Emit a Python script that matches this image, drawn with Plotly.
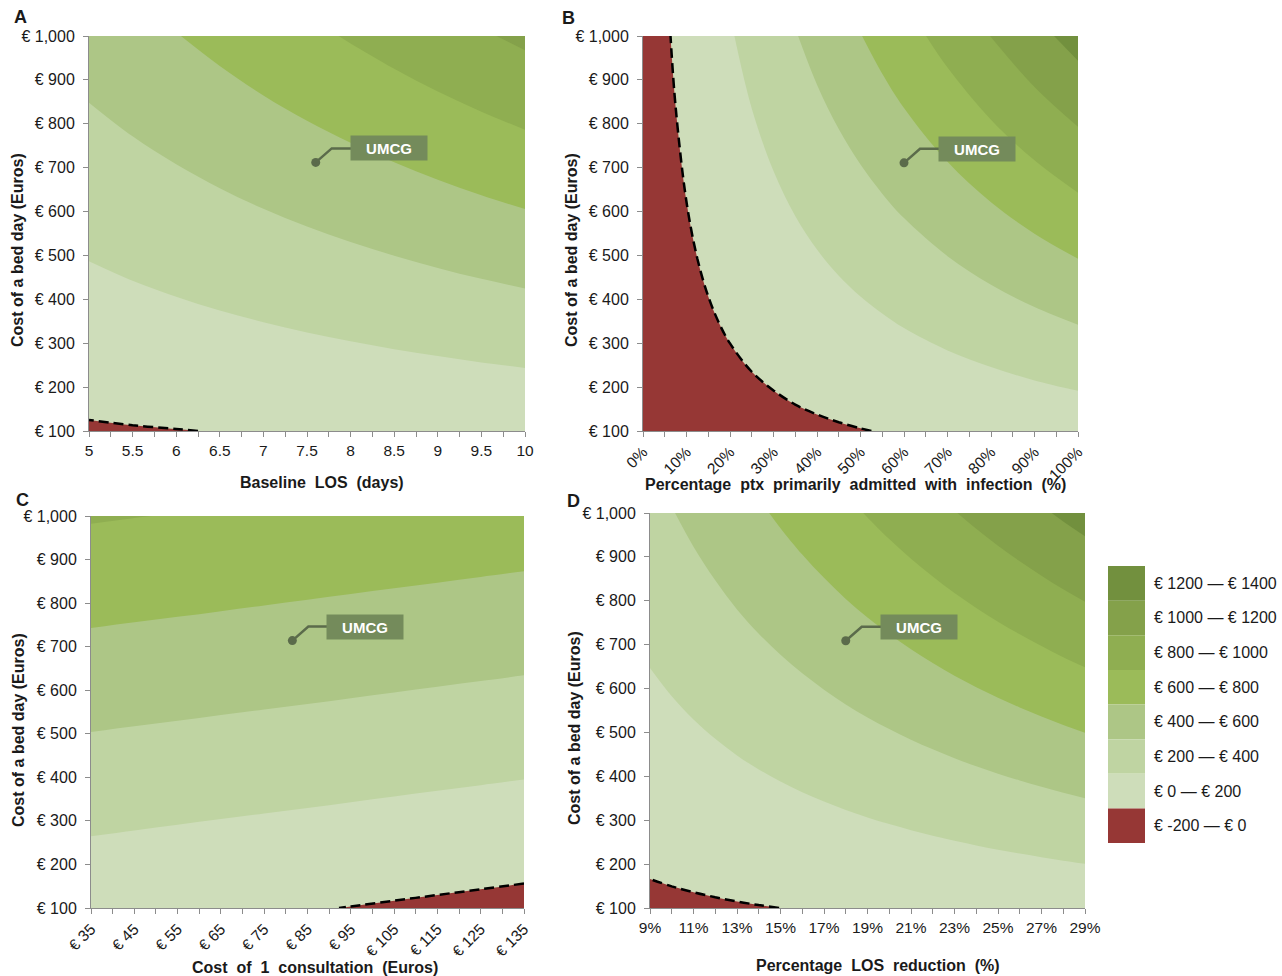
import plotly.graph_objects as go

# ---------------- data (savings in €) ----------------
bed_day_cost = [100, 1000]          # y grid (cost of a bed day)
bed_ticks = [100, 200, 300, 400, 500, 600, 700, 800, 900, 1000]
bed_tick_text = ["€ 100", "€ 200", "€ 300", "€ 400", "€ 500", "€ 600", "€ 700", "€ 800", "€ 900", "€ 1,000"]

# Panel A: baseline LOS (days)
los_days = [5, 5.5, 6, 6.5, 7, 7.5, 8, 8.5, 9, 9.5, 10]
a_saving_bed100 = [-14, -8, -3, 3, 8, 14, 19, 25, 30, 36, 41]
a_saving_bed1000 = [484, 539, 594, 649, 705, 760, 815, 870, 926, 981, 1036]
a_ticks = [5, 5.5, 6, 6.5, 7, 7.5, 8, 8.5, 9, 9.5, 10]
a_tick_text = ["5", "5.5", "6", "6.5", "7", "7.5", "8", "8.5", "9", "9.5", "10"]

# Panel B: percentage of patients primarily admitted with infection
pct_infection = [0, 2.5, 5, 7.5, 10, 12.5, 15, 17.5, 20, 25, 30, 35, 40, 45, 50, 55, 60, 70, 80, 90, 100]
b_saving_bed100 = [-86, -82, -78, -73, -69, -65, -61, -57, -53, -45, -37, -28, -20, -12, -4, 4, 13, 29, 45, 62, 78]
b_saving_bed1000 = [-86, -52, -18, 16, 50, 84, 118, 152, 186, 255, 323, 391, 459, 527, 595, 663, 731, 867, 1003, 1139, 1275]
b_ticks = [0, 10, 20, 30, 40, 50, 60, 70, 80, 90, 100]
b_tick_text = ["0%", "10%", "20%", "30%", "40%", "50%", "60%", "70%", "80%", "90%", "100%"]

# Panel C: cost of one consultation (€)
consult_cost = [35, 45, 55, 65, 75, 85, 95, 105, 115, 125, 135]
c_saving_bed100 = [62, 51, 40, 29, 18, 8, -3, -14, -25, -36, -47]
c_saving_bed1000 = [815, 804, 794, 783, 772, 761, 750, 739, 728, 717, 706]
c_ticks = [35, 45, 55, 65, 75, 85, 95, 105, 115, 125, 135]
c_tick_text = ["€ 35", "€ 45", "€ 55", "€ 65", "€ 75", "€ 85", "€ 95", "€ 105", "€ 115", "€ 125", "€ 135"]

# Panel D: percentage LOS reduction
los_reduction = [9, 10, 11, 12, 13, 14, 15, 16, 17, 18, 19, 20, 21, 22, 23, 24, 25, 26, 27, 28, 29]
d_saving_bed100 = [-27.4, -22.8, -18.2, -13.6, -8.9, -4.3, 0.3, 4.9, 9.5, 14.2, 18.8, 23.4, 28.0, 32.6, 37.3, 41.9, 46.5, 51.1, 55.7, 60.4, 65.0]
d_saving_bed1000 = [347, 393, 439, 485, 532, 578, 624, 670, 716, 763, 809, 855, 901, 947, 994, 1040, 1086, 1132, 1178, 1225, 1271]
d_ticks = [9, 11, 13, 15, 17, 19, 21, 23, 25, 27, 29]
d_tick_text = ["9%", "11%", "13%", "15%", "17%", "19%", "21%", "23%", "25%", "27%", "29%"]

# UMCG reference point per panel (x value, bed-day cost)
umcg_a = (7.6, 712)
umcg_b = (60, 711)
umcg_c = (81.5, 714)
umcg_d = (18, 709)

band_labels = ["€ -200 — € 0", "€ 0 — € 200", "€ 200 — € 400", "€ 400 — € 600",
               "€ 600 — € 800", "€ 800 — € 1000", "€ 1000 — € 1200", "€ 1200 — € 1400"]
band_colors = ["#963735", "#CEDDBA", "#BFD4A2", "#ADC686",
               "#9BBB59", "#8FAE51", "#84A14A", "#72903E"]

# ---------------- styling ----------------
W, H = 1282, 976
FONT = "Liberation Sans, Arial, sans-serif"
TXT = "#1a1a1a"
DOT = "#5B6B4B"
BOX = "#748B5B"
AX = "#8c8c8c"

colorscale = []
for i, c in enumerate(band_colors):
    colorscale.append([i / 8, c])
    colorscale.append([(i + 1) / 8, c])

def px_x(p):
    return p / W

def px_y(p):
    return 1 - p / H

panels = [
    # xaxis, yaxis, xvals, row100, row1000, ticks, ticktext, range, angle, minor (tick0, dtick), domain px, umcg
    ("x", "y", los_days, a_saving_bed100, a_saving_bed1000, a_ticks, a_tick_text, [5, 10], 0, (5, 0.25), (89, 525, 36, 431), umcg_a),
    ("x2", "y2", pct_infection, b_saving_bed100, b_saving_bed1000, b_ticks, b_tick_text, [0, 100], -45, (0, 5), (643, 1078, 36, 431), umcg_b),
    ("x3", "y3", consult_cost, c_saving_bed100, c_saving_bed1000, c_ticks, c_tick_text, [35, 135], -45, (35, 5), (91, 524, 516, 908), umcg_c),
    ("x4", "y4", los_reduction, d_saving_bed100, d_saving_bed1000, d_ticks, d_tick_text, [9, 29], 0, (9, 1), (650, 1085, 513, 908), umcg_d),
]

fig = go.Figure()
layout = dict(
    template="none",
    width=W, height=H, margin=dict(l=0, r=0, t=0, b=0, autoexpand=False),
    paper_bgcolor="white", plot_bgcolor="white", showlegend=False,
    font=dict(family=FONT, size=15, color=TXT),
    shapes=[], annotations=[],
)

for xa, ya, xs, r100, r1000, tv, tt, xr, ang, mn, dom, um in panels:
    z = [r100, r1000]
    fig.add_trace(go.Contour(
        x=xs, y=bed_day_cost, z=z, xaxis=xa, yaxis=ya,
        zmin=-200, zmax=1400, zauto=False, colorscale=colorscale,
        contours=dict(start=0, end=1200, size=200, coloring="fill"),
        line=dict(width=0), showscale=False, hoverinfo="skip"))
    fig.add_trace(go.Contour(
        x=xs, y=bed_day_cost, z=z, xaxis=xa, yaxis=ya,
        contours=dict(start=0, end=0, size=200, coloring="none"),
        line=dict(color="black", width=2.5, dash="10px,5px"),
        showscale=False, hoverinfo="skip"))
    fig.add_trace(go.Scatter(
        x=[um[0]], y=[um[1]], xaxis=xa, yaxis=ya, mode="markers",
        marker=dict(size=9, color=DOT), hoverinfo="skip"))

    x0, x1, yt, yb = dom
    kx = "xaxis" if xa == "x" else "xaxis" + xa[1:]
    ky = "yaxis" if ya == "y" else "yaxis" + ya[1:]
    layout[kx] = dict(domain=[px_x(x0), px_x(x1)], anchor=ya, range=xr, automargin=False,
                      tickvals=tv, ticktext=tt, tickangle=ang,
                      ticks="outside", ticklen=5, tickcolor=AX,
                      minor=dict(ticks="outside", ticklen=5, tickcolor=AX, tick0=mn[0], dtick=mn[1], showgrid=False),
                      showline=True, linecolor=AX, linewidth=1,
                      showgrid=False, zeroline=False, fixedrange=True,
                      tickfont=dict(size=15.5, color=TXT, family=FONT))
    layout[ky] = dict(domain=[px_y(yb), px_y(yt)], anchor=xa, range=[100, 1000], automargin=False,
                      tickvals=bed_ticks, ticktext=bed_tick_text,
                      ticks="outside", ticklen=5, tickcolor=AX, ticklabelstandoff=5,
                      showline=True, linecolor=AX, linewidth=1,
                      showgrid=False, zeroline=False, fixedrange=True,
                      tickfont=dict(size=16, color=TXT, family=FONT))

    # UMCG connector and label box
    layout["shapes"].append(dict(
        type="path", xref=xa, yref=ya, xsizemode="pixel", ysizemode="pixel",
        xanchor=um[0], yanchor=um[1], path="M0,0 L16,14 L36,14",
        line=dict(color=DOT, width=2.5), layer="above"))
    layout["annotations"].append(dict(
        x=um[0], y=um[1], xref=xa, yref=ya, xshift=73, yshift=14,
        text="<b>UMCG</b>", showarrow=False, bgcolor=BOX,
        width=72, height=20, borderpad=2,
        font=dict(family=FONT, size=15, color="white")))

# panel letters
for letter, lx, ly in [("A", 20, 17), ("B", 568, 18), ("C", 22, 500), ("D", 573, 501)]:
    layout["annotations"].append(dict(
        x=px_x(lx), y=px_y(ly), xref="paper", yref="paper", text="<b>" + letter + "</b>",
        showarrow=False, xanchor="center", yanchor="middle",
        font=dict(family=FONT, size=18, color=TXT)))

# axis titles
xtitles = [("Baseline  LOS  (days)", 322, 483), ("Percentage  ptx  primarily  admitted  with  infection  (%)", 855, 485),
           ("Cost  of  1  consultation  (Euros)", 315, 967), ("Percentage  LOS  reduction  (%)", 878, 965)]
for t, tx, ty in xtitles:
    layout["annotations"].append(dict(
        x=px_x(tx), y=px_y(ty), xref="paper", yref="paper", text="<b>" + t + "</b>",
        showarrow=False, xanchor="center", yanchor="middle",
        font=dict(family=FONT, size=16, color=TXT)))
for tx, ty in [(18, 250), (572, 250), (18, 730), (574, 728)]:
    layout["annotations"].append(dict(
        x=px_x(tx), y=px_y(ty), xref="paper", yref="paper", text="<b>Cost of a bed day (Euros)</b>",
        showarrow=False, textangle=-90, xanchor="center", yanchor="middle",
        font=dict(family=FONT, size=16, color=TXT)))

# colour key
top, bottom = 566, 843
step = (bottom - top) / len(band_colors)
for i, (c, lab) in enumerate(zip(reversed(band_colors), reversed(band_labels))):
    y0 = top + i * step
    layout["shapes"].append(dict(
        type="rect", xref="paper", yref="paper",
        x0=px_x(1108), x1=px_x(1145), y0=px_y(y0 + step), y1=px_y(y0),
        fillcolor=c, line=dict(width=0)))
    layout["annotations"].append(dict(
        x=px_x(1152), y=px_y(y0 + step / 2), xref="paper", yref="paper",
        text=lab, showarrow=False, xanchor="left", yanchor="middle",
        font=dict(family=FONT, size=16, color=TXT)))

fig.update_layout(**layout)
fig.write_html("out.html", config={"displayModeBar": False},
               post_script="document.body.style.margin='0';")
